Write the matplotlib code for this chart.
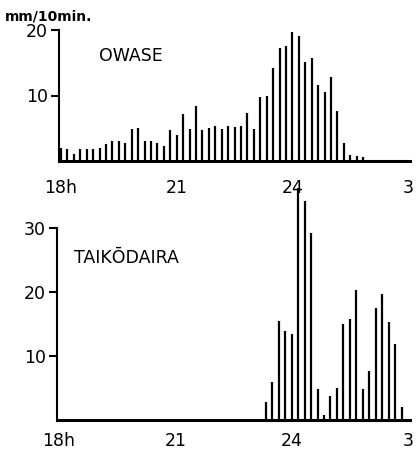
import numpy as np
import matplotlib
matplotlib.use('Agg')
import matplotlib.pyplot as plt

# 10-minute rainfall (mm/10min.)
# OWASE: one bar every 10 min starting at 18:00
owase_mm = [2.0, 1.8, 1.0, 1.8, 1.9, 1.9, 2.0, 2.6, 3.0, 3.0,
            2.7, 4.9, 5.1, 3.1, 3.1, 2.7, 2.3, 4.7, 4.0, 7.1,
            4.9, 8.4, 4.7, 5.0, 5.4, 4.9, 5.3, 5.2, 5.4, 7.4,
            4.9, 9.7, 10.0, 14.2, 17.2, 17.6, 19.7, 19.1, 15.1, 15.7,
            11.6, 10.5, 12.9, 7.7, 2.8, 0.9, 0.7, 0.6]
owase_start = 18.0

# TAIKODAIRA: no rain until 23:20
taiko_mm = [2.8, 5.9, 15.5, 13.9, 13.5, 36.2, 34.2, 29.2, 4.8, 0.8,
            3.8, 5.0, 15.0, 15.7, 20.3, 4.8, 7.7, 17.5, 19.7, 15.3,
            11.9, 2.1]
taiko_start = 23 + 20 / 60

hour_ticks = [18, 21, 24, 27]
hour_labels = ['18h', '21', '24', '3']

W, H = 416, 453
fig = plt.figure(figsize=(W / 100, H / 100), dpi=100)

fs = 12.5


def setup(ax, ymax_axis, yticks, pad):
    ax.set_xlim(17.95, 27.05)
    ax.patch.set_alpha(0)
    for s in ['top', 'right']:
        ax.spines[s].set_visible(False)
    ax.spines['left'].set_bounds(0, ymax_axis)
    ax.spines['left'].set_linewidth(1.5)
    ax.spines['bottom'].set_linewidth(2.2)
    ax.set_yticks(yticks)
    ax.set_yticklabels([str(t) for t in yticks], fontsize=fs)
    ax.tick_params(axis='y', direction='out', length=6, width=1.5, pad=2)
    ax.set_xticks(hour_ticks)
    ax.set_xticklabels(hour_labels, fontsize=fs)
    ax.tick_params(axis='x', length=0, pad=pad)


# Top panel - OWASE
ax1 = fig.add_axes([59 / W, (H - 161) / H, 351 / W, 131 / H])
t1 = owase_start + np.arange(len(owase_mm)) / 6
ax1.vlines(t1, 0, owase_mm, color='black', linewidth=1.6)
ax1.set_ylim(0, 20)
setup(ax1, 20, [10, 20], 13)
ax1.text(19.0, 15.2, 'OWASE', fontsize=fs)
fig.text(5 / W, (H - 20) / H, 'mm/10min.', fontsize=10, fontweight='bold')

# Bottom panel - TAIKODAIRA
ax2 = fig.add_axes([57 / W, (H - 420) / H, 353 / W, 237 / H])
t2 = taiko_start + np.arange(len(taiko_mm)) / 6
ax2.vlines(t2, 0, taiko_mm, color='black', linewidth=1.6)
ax2.set_ylim(0, 37)
setup(ax2, 30, [10, 20, 30], 9)
ax2.text(18.4, 24.5, 'TAIKŌDAIRA', fontsize=fs)

fig.savefig('out.png', dpi=100)
